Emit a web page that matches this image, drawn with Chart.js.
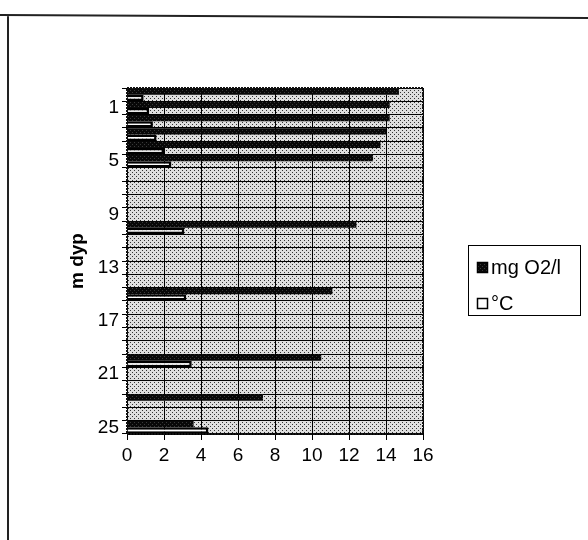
<!DOCTYPE html>
<html>
<head>
<meta charset="utf-8">
<script src="https://cdn.jsdelivr.net/npm/chart.js@4"></script>
<style>
  body { margin: 0; background: #fff; }
  canvas { display: block; }
</style>
</head>
<body>
<canvas id="chart" width="588" height="540"></canvas>
<script>
const depths = ['0', '1', '2', '3', '4', '5', '6', '7', '8', '9', '10', '11', '12',
    '13', '14', '15', '16', '17', '18', '19', '20', '21', '22', '23', '24', '25'];

// mg O2/l per depth, gaps where nothing was measured
const oxygen = [14.7, 14.2, 14.2, 14.0, 13.7, 13.3, null, null, null, null,
    12.4, null, null, null, null, 11.1, null, null, null, null,
    10.5, null, null, 7.35, null, 3.6];

// water temperature per depth
const temperature = [0.9, 1.2, 1.4, 1.6, 2.0, 2.4, null, null, null, null,
    3.1, null, null, null, null, 3.2, null, null, null, null,
    3.5, null, null, null, null, 4.4];

const xTicks = [0, 2, 4, 6, 8, 10, 12, 14, 16];

const ctx = document.querySelector('#chart').getContext('2d');

function stipple(bg, dot) {
    const tile = document.createElement('canvas');
    tile.width = 4;
    tile.height = 4;
    const t = tile.getContext('2d');
    t.fillStyle = bg;
    t.fillRect(0, 0, 4, 4);
    t.fillStyle = dot;
    t.fillRect(0, 0, 1, 1);
    t.fillRect(2, 2, 1, 1);
    return ctx.createPattern(tile, 'repeat');
}

const plotFill = stipple('#dedede', '#333');
const darkFill = stipple('#080808', '#3a3a3a');
const fontFamily = '"Liberation Sans", Arial, sans-serif';

const paper = {
    id: 'paper',
    beforeDraw(chart) {
        const c = chart.ctx;
        const a = chart.chartArea;
        c.save();
        c.fillStyle = '#fff';
        c.fillRect(0, 0, chart.width, chart.height);
        // page frame
        c.strokeStyle = '#222';
        c.lineWidth = 2;
        c.beginPath();
        c.moveTo(0, 15);
        c.lineTo(588, 18);
        c.moveTo(8, 15);
        c.lineTo(8, 540);
        c.stroke();
        c.fillStyle = plotFill;
        c.fillRect(a.left, a.top, a.right - a.left, a.bottom - a.top);
        c.restore();
    },
    afterDraw(chart) {
        const c = chart.ctx;
        const a = chart.chartArea;
        c.save();
        c.strokeStyle = '#111';
        c.lineWidth = 2;
        c.setLineDash([2, 1]);
        c.strokeRect(a.left, a.top, a.right - a.left, a.bottom - a.top);
        c.setLineDash([]);

        // legend box
        c.lineWidth = 1;
        c.strokeStyle = '#000';
        c.fillStyle = '#fff';
        c.fillRect(468.5, 245.5, 112, 70);
        c.strokeRect(468.5, 245.5, 112, 70);
        c.font = '20px ' + fontFamily;
        c.textBaseline = 'middle';
        chart.data.datasets.forEach((ds, i) => {
            const y = 267 + i * 36;
            c.fillStyle = ds.backgroundColor;
            c.fillRect(477, y - 5, 11, 11);
            c.strokeStyle = '#000';
            c.lineWidth = 1.5;
            c.strokeRect(477.5, y - 4.5, 10, 10);
            c.fillStyle = '#000';
            c.fillText(ds.label, 491, y + 1);
        });
        c.restore();
    }
};

new Chart(ctx, {
    type: 'bar',
    data: {
        labels: depths,
        datasets: [
            {
                label: 'mg O2/l',
                data: oxygen,
                backgroundColor: darkFill,
                borderWidth: 0,
                categoryPercentage: 0.95,
                barPercentage: 1,
            },
            {
                label: '°C',
                data: temperature,
                backgroundColor: '#fff',
                borderColor: '#000',
                borderWidth: 2.5,
                categoryPercentage: 0.95,
                barPercentage: 1,
            }
        ]
    },
    options: {
        indexAxis: 'y',
        responsive: false,
        animation: false,
        layout: { padding: { left: 60, right: 165, top: 88, bottom: 66 } },
        plugins: {
            legend: { display: false },
            tooltip: { enabled: false }
        },
        scales: {
            x: {
                min: 0,
                max: 16,
                afterBuildTicks: scale => {
                    scale.ticks = xTicks.map(v => ({ value: v }));
                },
                afterFit: scale => { scale.height = 40; },
                ticks: {
                    color: '#000',
                    padding: 4,
                    font: { family: fontFamily, size: 19 }
                },
                grid: { color: '#000', lineWidth: 1, tickLength: 6 },
                border: { color: '#000', width: 1 }
            },
            y: {
                afterFit: scale => { scale.width = 67; },
                ticks: {
                    autoSkip: false,
                    color: '#000',
                    padding: 3,
                    font: { family: fontFamily, size: 19 },
                    callback: (value, index) => (index - 1) % 4 === 0 ? depths[index] : ''
                },
                grid: { color: '#000', lineWidth: 1, tickLength: 5, offset: true },
                border: { color: '#000', width: 1 },
                title: {
                    display: true,
                    text: 'm dyp',
                    color: '#000',
                    padding: { top: 6, bottom: 0 },
                    font: { family: fontFamily, size: 19, weight: 'bold' }
                }
            }
        }
    },
    plugins: [paper]
});
</script>
</body>
</html>
